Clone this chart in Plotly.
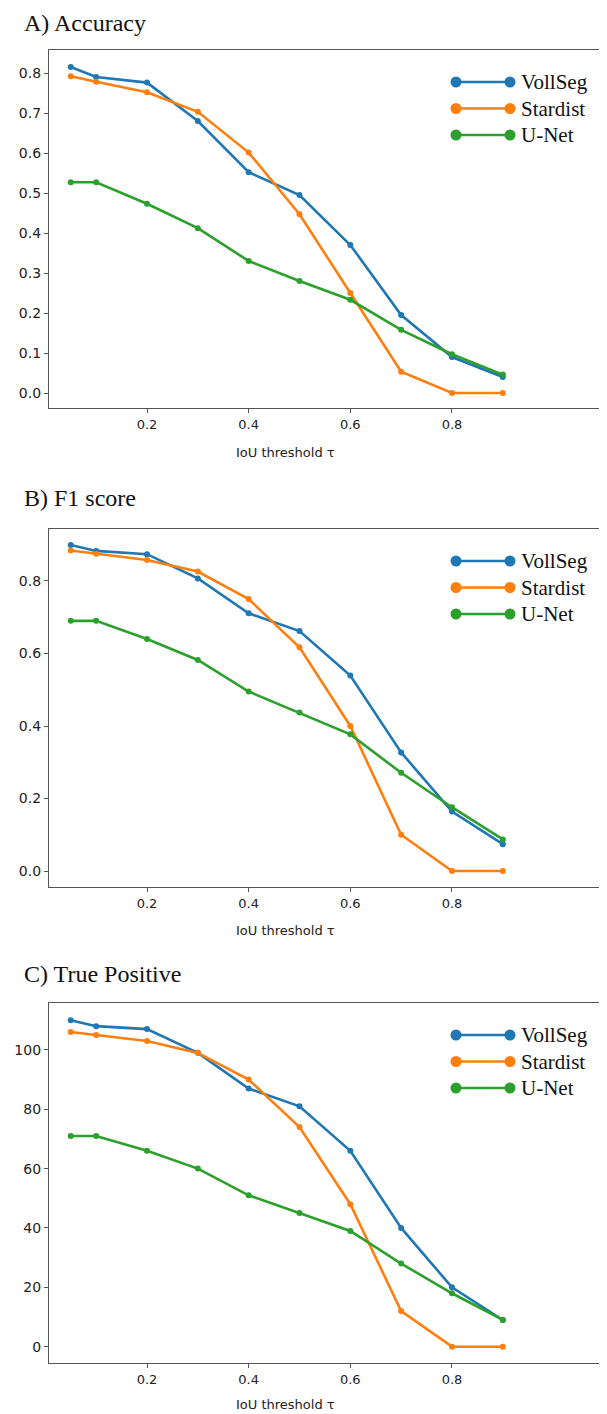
import plotly.graph_objects as go

# ---------------- data ----------------
iou_thresholds = [0.05, 0.1, 0.2, 0.3, 0.4, 0.5, 0.6, 0.7, 0.8, 0.9]
series_names = ["VollSeg", "Stardist", "U-Net"]
series_colors = ["#1f77b4", "#ff7f0e", "#2ca02c"]

accuracy_vollseg = [0.815, 0.79, 0.776, 0.68, 0.552, 0.495, 0.37, 0.195, 0.09, 0.04]
accuracy_stardist = [0.792, 0.778, 0.752, 0.703, 0.601, 0.447, 0.25, 0.053, 0.0, 0.0]
accuracy_unet = [0.527, 0.527, 0.473, 0.412, 0.33, 0.28, 0.233, 0.158, 0.097, 0.046]

f1_vollseg = [0.899, 0.883, 0.874, 0.807, 0.711, 0.662, 0.539, 0.327, 0.164, 0.074]
f1_stardist = [0.884, 0.875, 0.858, 0.826, 0.75, 0.617, 0.4, 0.1, 0.0, 0.0]
f1_unet = [0.69, 0.69, 0.64, 0.582, 0.495, 0.437, 0.377, 0.271, 0.176, 0.087]

tp_vollseg = [110, 108, 107, 99, 87, 81, 66, 40, 20, 9]
tp_stardist = [106, 105, 103, 99, 90, 74, 48, 12, 0, 0]
tp_unet = [71, 71, 66, 60, 51, 45, 39, 28, 18, 9]

panel_titles = ["A) Accuracy", "B) F1 score", "C) True Positive"]
x_title = "IoU threshold \u03c4"
x_tickvals = [0.2, 0.4, 0.6, 0.8]
x_ticktext = ["0.2", "0.4", "0.6", "0.8"]
acc_ticks = [0.0, 0.1, 0.2, 0.3, 0.4, 0.5, 0.6, 0.7, 0.8]
f1_ticks = [0.0, 0.2, 0.4, 0.6, 0.8]
tp_ticks = [0, 20, 40, 60, 80, 100]

panels = [
    dict(values=[accuracy_vollseg, accuracy_stardist, accuracy_unet], ticks=acc_ticks, fmt=".1f",
         top=50, bottom=408, yrange=[-0.0375, 0.8575], title_y=23, xlabel_y=452),
    dict(values=[f1_vollseg, f1_stardist, f1_unet], ticks=f1_ticks, fmt=".1f",
         top=529, bottom=887, yrange=[-0.0441, 0.9434], title_y=498, xlabel_y=930),
    dict(values=[tp_vollseg, tp_stardist, tp_unet], ticks=tp_ticks, fmt="d",
         top=1003, bottom=1363, yrange=[-5.5, 115.8], title_y=974, xlabel_y=1404),
]

# page body adds an 8px margin; positions below are page pixels
OFF = 8
W, H = 607 - OFF, 1414 - OFF
LEFT = 49
FRAME = "#555555"
TICKFONT = dict(family="DejaVu Sans", size=13, color="#222222")
SERIF = "Liberation Serif"

def px_x(p):
    return (p - OFF) / W

def px_y(p):
    return 1 - (p - OFF) / H

fig = go.Figure()
layout = dict(
    width=W, height=H, margin=dict(l=0, r=0, t=0, b=0),
    paper_bgcolor="white", plot_bgcolor="white", showlegend=False,
)
shapes = []
annotations = []

for i, pn in enumerate(panels):
    k = "" if i == 0 else str(i + 1)
    xa, ya = "x" + k, "y" + k
    for name, color, vals in zip(series_names, series_colors, pn["values"]):
        fig.add_trace(go.Scatter(
            x=iou_thresholds, y=vals, name=name, mode="lines+markers",
            line=dict(color=color, width=2.6),
            marker=dict(color=color, size=6),
            xaxis=xa, yaxis=ya, hoverinfo="x+y+name",
        ))
    layout["xaxis" + k] = dict(
        domain=[px_x(LEFT), 1.0], anchor=ya, range=[0.0072, 1.105],
        tickvals=x_tickvals, ticktext=x_ticktext, ticks="outside", ticklen=4,
        tickcolor=FRAME, tickfont=TICKFONT, showgrid=False, zeroline=False,
        showline=True, linecolor=FRAME, linewidth=1.2, mirror=True,
    )
    layout["yaxis" + k] = dict(
        domain=[px_y(pn["bottom"]), px_y(pn["top"])], anchor=xa, range=pn["yrange"],
        tickvals=pn["ticks"], tickformat=pn["fmt"], ticks="outside", ticklen=4,
        tickcolor=FRAME, tickfont=dict(family="DejaVu Sans", size=14, color="#222222"),
        showgrid=False, zeroline=False, showline=True, linecolor=FRAME, linewidth=1.2,
    )
    annotations.append(dict(
        text=panel_titles[i], xref="paper", yref="paper", x=px_x(22), y=px_y(pn["title_y"]),
        xanchor="left", yanchor="middle", showarrow=False,
        font=dict(family=SERIF, size=24, color="#111111"),
    ))
    annotations.append(dict(
        text=x_title, xref="paper", yref="paper", x=px_x(285), y=px_y(pn["xlabel_y"]),
        xanchor="center", yanchor="middle", showarrow=False,
        font=dict(family="DejaVu Sans", size=13, color="#222222"),
    ))
    # legend (matplotlib-style: line with a marker at each end)
    for j, (name, color) in enumerate(zip(series_names, series_colors)):
        ry = pn["top"] + 32 + j * 26.5
        shapes.append(dict(type="line", xref="paper", yref="paper",
                           x0=px_x(456), x1=px_x(510), y0=px_y(ry), y1=px_y(ry),
                           line=dict(color=color, width=2.6)))
        for cx in (456, 510):
            shapes.append(dict(type="circle", xref="paper", yref="paper",
                               x0=px_x(cx - 5.5), x1=px_x(cx + 5.5),
                               y0=px_y(ry + 5.5), y1=px_y(ry - 5.5),
                               fillcolor=color, line=dict(width=0)))
        annotations.append(dict(
            text=name, xref="paper", yref="paper", x=px_x(519), y=px_y(ry),
            xanchor="left", yanchor="middle", showarrow=False,
            font=dict(family=SERIF, size=21, color="#111111"),
        ))

layout["shapes"] = shapes
layout["annotations"] = annotations
fig.update_layout(**layout)
fig.write_html("out.html")
